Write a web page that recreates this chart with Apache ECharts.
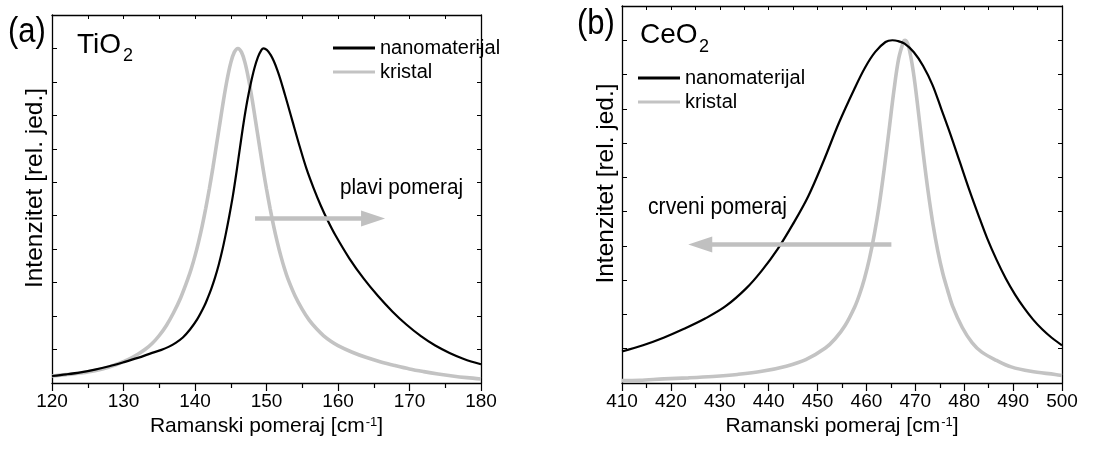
<!DOCTYPE html>
<html>
<head>
<meta charset="utf-8">
<script src="https://cdn.jsdelivr.net/npm/echarts@6/dist/echarts.min.js"></script>
<style>
html, body { margin: 0; padding: 0; background: #fff; }
#chart { width: 1115px; height: 450px; }
</style>
</head>
<body>
<div id="chart"></div>
<script>
// (a) TiO2 Eg Raman band: nanomaterial vs. bulk crystal
const tio2NanoX = [120,122,124,126,128,130,132,134,135.3,136.3,137.3,138.3,139.3,140.3,141.3,141.8,142.3,142.8,143.3,143.8,144.3,144.8,145.3,145.8,146.3,146.8,147.3,147.8,148.3,148.8,149.3,149.6,150.6,151.6,152.6,153.6,154.6,155.6,156.6,157.6,158.6,159.6,161.6,163.6,165.6,167.6,169.6,171.6,173.6,175.6,177.6,180];
const tio2NanoY = [0.21,0.26,0.32,0.4,0.5,0.62,0.75,0.9,0.99,1.08,1.2,1.36,1.6,1.9,2.3,2.55,2.83,3.15,3.52,3.95,4.45,5.0,5.6,6.3,7.05,7.78,8.42,8.95,9.4,9.74,9.96,10,9.8,9.3,8.6,7.85,7.1,6.4,5.82,5.3,4.84,4.43,3.72,3.12,2.6,2.14,1.74,1.4,1.12,0.9,0.72,0.56];
const tio2KristalX = [120,122,124,126,128,130,131,132,133,134,135,136,137,138,139,139.5,140,140.5,141,141.5,142,142.5,143,143.5,144,144.5,145,145.5,146,146.5,147,147.5,148,148.5,149,149.5,150,150.5,151,151.5,152,152.5,153,154,155,156,157,158,159,160,162,164,166,168,170,172,174,176,178,180];
const tio2KristalY = [0.21,0.25,0.3,0.37,0.48,0.64,0.74,0.86,1.0,1.18,1.42,1.72,2.1,2.55,3.11,3.43,3.8,4.22,4.69,5.22,5.8,6.43,7.11,7.79,8.47,9.08,9.57,9.89,10,9.89,9.57,9.08,8.47,7.79,7.11,6.43,5.8,5.22,4.69,4.22,3.8,3.43,3.11,2.6,2.2,1.87,1.62,1.41,1.25,1.12,0.92,0.76,0.63,0.52,0.42,0.34,0.27,0.21,0.16,0.12];

// (b) CeO2 F2g Raman band: nanomaterial vs. bulk crystal
const ceo2NanoX = [410,414.3,418.5,422.7,427,431.2,435.4,438.6,441.8,444.9,448.1,451.3,454.4,457.6,459.7,461.8,463.9,465.3,466.4,467.8,469.7,471.6,473.5,475.3,477.2,479.1,481,482.9,484.7,486.6,488.5,490.4,492.2,494.1,496,497.9,500];
const ceo2NanoY = [0.92,1.1,1.32,1.58,1.88,2.24,2.76,3.28,3.9,4.62,5.45,6.5,7.6,8.6,9.2,9.66,9.95,10,9.98,9.9,9.65,9.25,8.7,8.0,7.25,6.45,5.65,4.9,4.22,3.6,3.05,2.58,2.2,1.85,1.56,1.32,1.1];
const ceo2KristalX = [410,413.6,418.6,423.6,428.6,433.6,438.6,443.6,447.6,451.6,453.6,455.6,457.6,458.6,459.6,460.6,461.6,462.6,463.6,464.6,465.6,466.6,467.6,467.9,468.6,469.6,470.6,471.6,472.6,473.6,474.6,475.6,476.6,477.6,479.6,481.6,483.6,486.6,489.6,493.6,498.6,500];
const ceo2KristalY = [0.07,0.08,0.12,0.15,0.19,0.25,0.34,0.49,0.68,1.02,1.29,1.67,2.22,2.59,3.05,3.62,4.33,5.18,6.21,7.35,8.51,9.47,9.97,10,9.83,9.07,7.94,6.72,5.6,4.64,3.85,3.21,2.71,2.25,1.62,1.18,0.9,0.66,0.47,0.34,0.25,0.22];

// Axis ranges and shift arrows (start, arrowhead centre, height)
const tio2Range = [120, 180];
const ceo2Range = [410, 500];
const tio2Arrow = [148.4, 164.9, 4.92];
const ceo2Arrow = [465.1, 426.0, 4.04];

const seriesNames = ['nanomaterijal', 'kristal'];
const FONT = '"Liberation Sans", Arial, sans-serif';
const BLACK = '#000000';
const GREY = '#c3c3c3';
const ARROW = '#c0c0c0';

const pairs = (xs, ys) => xs.map((x, i) => [x, ys[i]]);

function bottomAxis(grid, range) {
  return {
    type: 'value', gridIndex: grid, position: 'bottom',
    min: range[0], max: range[1], interval: 10,
    name: 'Ramanski pomeraj [cm{sup|-1}]',
    nameLocation: 'middle', nameGap: 33,
    nameTextStyle: {
      fontSize: 21, color: '#000', fontFamily: FONT,
      rich: { sup: { fontSize: 13, color: '#000', fontFamily: FONT, verticalAlign: 'top', padding: [0, 0, 0, 1] } }
    },
    axisLine: { show: true, onZero: false, lineStyle: { color: '#000', width: 1.3 } },
    axisTick: { show: true, inside: false, length: 8, lineStyle: { color: '#000', width: 1.2 } },
    minorTick: { show: true, splitNumber: 2, length: 5, lineStyle: { color: '#000', width: 1.2 } },
    axisLabel: { fontSize: 19, color: '#000', fontFamily: FONT, margin: 9 },
    splitLine: { show: false }
  };
}
function topAxis(grid, range) {
  return {
    type: 'value', gridIndex: grid, position: 'top',
    min: range[0], max: range[1], interval: 5,
    axisLine: { show: true, onZero: false, lineStyle: { color: '#000', width: 1.3 } },
    axisTick: { show: true, inside: true, length: 4, lineStyle: { color: '#000', width: 1 } },
    axisLabel: { show: false }, splitLine: { show: false }
  };
}
function leftAxis(grid, gap) {
  return {
    type: 'value', gridIndex: grid, position: 'left',
    min: 0, max: 11, interval: 1,
    name: 'Intenzitet [rel. jed.]', nameLocation: 'middle', nameGap: gap,
    nameTextStyle: { fontSize: 24.5, color: '#000', fontFamily: FONT, padding: [0, 0, 0, 22] },
    axisLine: { show: true, onZero: false, lineStyle: { color: '#000', width: 1.3 } },
    axisTick: { show: true, inside: true, length: 5, lineStyle: { color: '#000', width: 1 } },
    axisLabel: { show: false }, splitLine: { show: false }
  };
}
function rightAxis(grid) {
  return {
    type: 'value', gridIndex: grid, position: 'right',
    min: 0, max: 11, interval: 1,
    axisLine: { show: true, onZero: false, lineStyle: { color: '#000', width: 1.3 } },
    axisTick: { show: true, inside: true, length: 4, lineStyle: { color: '#000', width: 1 } },
    axisLabel: { show: false }, splitLine: { show: false }
  };
}

function curve(name, xi, yi, xs, ys, color, width) {
  return {
    type: 'line', name: name, xAxisIndex: xi, yAxisIndex: yi,
    data: pairs(xs, ys), showSymbol: false, symbol: 'none',
    smooth: 0.35,
    color: color, itemStyle: { color: color },
    lineStyle: { color: color, width: width }, z: color === BLACK ? 3 : 2
  };
}
function arrowLine(a) {
  return {
    silent: true, animation: false,
    label: { show: false },
    lineStyle: { color: ARROW, width: 4.5, type: 'solid', opacity: 1 },
    data: [[
      { coord: [a[0], a[2]], symbol: 'none' },
      { coord: [a[1], a[2]], symbol: 'triangle', symbolSize: [16, 24] }
    ]]
  };
}

const nanoA = curve(seriesNames[0], 0, 0, tio2NanoX, tio2NanoY, BLACK, 2.2);
const kristA = curve(seriesNames[1], 0, 0, tio2KristalX, tio2KristalY, GREY, 3.6);
kristA.markLine = arrowLine(tio2Arrow);
const nanoB = curve(seriesNames[0], 2, 2, ceo2NanoX, ceo2NanoY, BLACK, 2.2);
const kristB = curve(seriesNames[1], 2, 2, ceo2KristalX, ceo2KristalY, GREY, 3.6);
kristB.markLine = arrowLine(ceo2Arrow);

function legendAt(left, top) {
  return {
    left: left, top: top, orient: 'vertical', selectedMode: false,
    itemWidth: 42, itemHeight: 3, itemGap: 4, padding: 0,
    textStyle: { fontSize: 20, color: '#000', fontFamily: FONT },
    data: [
      { name: seriesNames[0], icon: 'rect', itemStyle: { color: BLACK } },
      { name: seriesNames[1], icon: 'rect', itemStyle: { color: GREY } }
    ]
  };
}

// Text placed at pixel positions; sy stretches the glyphs vertically
function label(text, x, y, size, sy) {
  return {
    type: 'text', x: x, y: y, scaleY: sy || 1, silent: true,
    style: { text: text, x: 0, y: 0, font: size + 'px ' + FONT, fill: '#000',
             verticalAlign: 'top', textVerticalAlign: 'top' }
  };
}

const option = {
  animation: false,
  backgroundColor: '#fff',
  grid: [
    { left: 52, top: 15, width: 429, height: 368 },
    { left: 622, top: 6, width: 440, height: 377 }
  ],
  xAxis: [
    bottomAxis(0, tio2Range), topAxis(0, tio2Range),
    bottomAxis(1, ceo2Range), topAxis(1, ceo2Range)
  ],
  yAxis: [leftAxis(0, 4), rightAxis(0), leftAxis(1, 3), rightAxis(1)],
  legend: [legendAt(333, 38), legendAt(638, 68)],
  series: [kristA, nanoA, kristB, nanoB],
  graphic: [
    label('(a)', 8, 15, 31, 1.12),
    label('TiO', 77, 31, 28),
    label('2', 123, 47, 18),
    label('(b)', 577, 7, 31, 1.12),
    label('CeO', 640, 21, 28),
    label('2', 699, 38, 18),
    label('plavi pomeraj', 340, 176, 20.7, 1.1),
    label('crveni pomeraj', 648, 196, 21.2, 1.1)
  ]
};

const chart = echarts.init(document.getElementById('chart'), null, { renderer: 'canvas' });
chart.setOption(option);
</script>
</body>
</html>
